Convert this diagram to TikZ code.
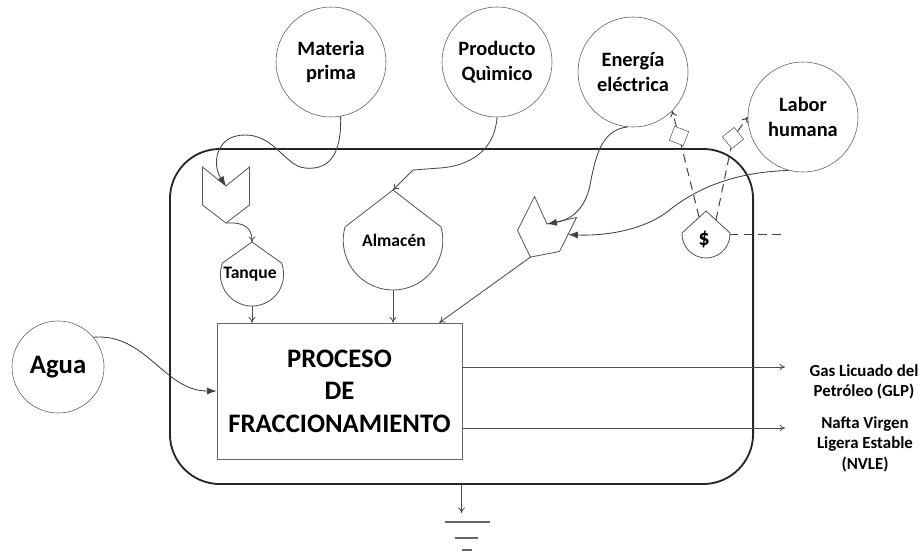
\documentclass[tikz,border=0pt]{standalone}
\usepackage{fontspec}
\setmainfont{Carlito}
\usetikzlibrary{arrows.meta}
\tikzset{
    source-circle/.style = {draw=black!65, circle, inner sep=0pt, minimum size=2.75cm, align=center, font=\fontsize{14.5}{17.5}\selectfont\bfseries},
    process-box/.style = {draw=black!60, rectangle, minimum width=6.125cm, minimum height=3.4cm, align=center, font=\fontsize{19}{23}\selectfont\bfseries},
    environment/.style = {draw=black!85, line width=1.3pt, rectangle, rounded corners=1.25cm, minimum width=14.575cm, minimum height=8.375cm},
    stock-shape/.style = {draw=black!65, line width=0.6pt},
    flow-line/.style = {draw=black!70, line width=0.6pt, -{To[length=4pt,width=5pt]}},
    flow-fill/.style = {draw=black!75, line width=0.6pt, -{Latex[length=7pt,width=5pt]}},
    info-line/.style = {draw=black!75, line width=0.7pt, dashed, dash pattern=on 6pt off 4pt},
    info-box/.style = {draw=black!65, fill=white, rectangle, minimum size=0.375cm, inner sep=0pt},
    product-label/.style = {align=center, font=\fontsize{12}{14.5}\selectfont\bfseries},
    shape-label/.style = {font=\fontsize{12.5}{15}\selectfont\bfseries},
    chevron/.pic = {
        \draw[stock-shape] (-23.5,19) -- (0,0) -- (23.5,19) -- (23.5,-19) -- (0,-37) -- (-23.5,-19) -- cycle;
        \coordinate (-notch) at (0,0);
        \coordinate (-bottom) at (0,-37);
        \coordinate (-east) at (23.5,0);
    },
}

\begin{document}
\begin{tikzpicture}[x=0.025cm, y=0.025cm]
\useasboundingbox (0,0) rectangle (924,-552);

% system boundary
\node[environment] (env) at (461.5,-316.5) {};

% inputs
\node[source-circle] (mat) at (331,-62) {Materia\\prima};
\node[source-circle] (prod) at (497,-62) {Producto\\Quìmico};
\node[source-circle] (ener) at (633,-72) {Energía\\eléctrica};
\node[source-circle] (labor) at (803,-117) {Labor\\humana};
\node[source-circle, minimum size=2.3cm, font=\fontsize{19}{23}\selectfont\bfseries] (agua) at (58,-367) {Agua};

% process
\node[process-box] (proc) at (339.5,-391) {PROCESO\\DE\\FRACCIONAMIENTO};

% valves
\pic (ch1) at (226,-186) {chevron};
\pic[rotate=-26.6] (ch2) at (547,-224) {chevron};

% stocks
\draw[stock-shape] (252,-242) coordinate (tq-top) -- (222.5,-263) arc[start angle=158.9, end angle=381.1, radius=31.62] -- cycle;
\coordinate (tq-bottom) at (252,-306);
\node[shape-label] (tanque) at (250,-274) {Tanque};

\draw[stock-shape] (393,-190) coordinate (alm-top) -- (345,-227) arc[start angle=164.61, end angle=375.39, radius=49.79] -- cycle;
\coordinate (alm-bottom) at (393,-290);
\node[shape-label] (almacen) at (394,-240) {Almacén};

\draw[stock-shape] (706,-211) -- (682,-233) arc[start angle=177.7, end angle=362.3, radius=24.02] -- cycle;
\node[shape-label, font=\fontsize{16}{18}\selectfont\bfseries] (usd) at (704,-239) {\$};
\coordinate (usd-l) at (699,-217);
\coordinate (usd-r) at (716,-220);
\coordinate (usd-e) at (730,-234);
\coordinate (usd-end) at (785,-234);

% flows into the valves and stocks
\draw[flow-fill] (mat.-80) .. controls (342,-160) and (325,-170) .. (305,-168) .. controls (285,-166) and (275,-135) .. (245,-135) .. controls (215,-135) and (212,-165) .. (ch1-notch);
\draw[flow-line] (ch1-bottom) .. controls (245,-222) and (252,-228) .. (tq-top);
\draw[flow-line] (prod.south) .. controls (495,-150) and (470,-166) .. (440,-168) -- (413,-170) -- (alm-top);
\draw[flow-fill] (ener.-96) .. controls (600,-130) and (595,-160) .. (590,-185) .. controls (585,-210) and (570,-220) .. (ch2-notch);
\draw[flow-fill] (labor.-105) .. controls (740,-172) and (700,-185) .. (667,-212) .. controls (640,-232) and (600,-236) .. (ch2-east);

% flows into the process
\draw[flow-line] (tq-bottom) -- (tq-bottom |- proc.north);
\draw[flow-line] (alm-bottom) -- (alm-bottom |- proc.north);
\draw[flow-line] (ch2-bottom) -- ([xshift=-0.575cm]proc.north east);
\draw[flow-fill] (agua.40) to[out=5,in=180] (proc.west);

% information (money)
\node[info-box, rotate=-21] (inf1) at (679,-136) {};
\node[info-box, rotate=39] (inf2) at (733,-138) {};
\draw[info-line] (usd-l) -- (inf1);
\draw[info-line, -{To[length=4pt,width=5pt]}] (inf1) -- (ener.-45);
\draw[info-line] (usd-r) -- (inf2);
\draw[info-line, -{To[length=4pt,width=5pt]}] (inf2) -- (labor.west);
\draw[info-line] (usd-e) -- (usd-end);

% outputs
\coordinate (glp-end) at (785,-367);
\coordinate (nvle-end) at (785,-428);
\draw[flow-line] (proc.east |- glp-end) -- (glp-end);
\draw[flow-line] (proc.east |- nvle-end) -- (nvle-end);
\node[product-label] (glp) at (864,-382) {Gas Licuado del\\Petróleo (GLP)};
\node[product-label] (nvle) at (865,-444) {Nafta Virgen\\Ligera Estable\\(NVLE)};

% sink
\coordinate (gnd) at (461.5,-513);
\draw[flow-line] (env.south) -- (gnd);
\draw[black!60, line width=0.8pt] (445,-522) -- (490,-522) (455,-538) -- (478,-538) (462,-550) -- (472,-550);
\end{tikzpicture}
\end{document}
